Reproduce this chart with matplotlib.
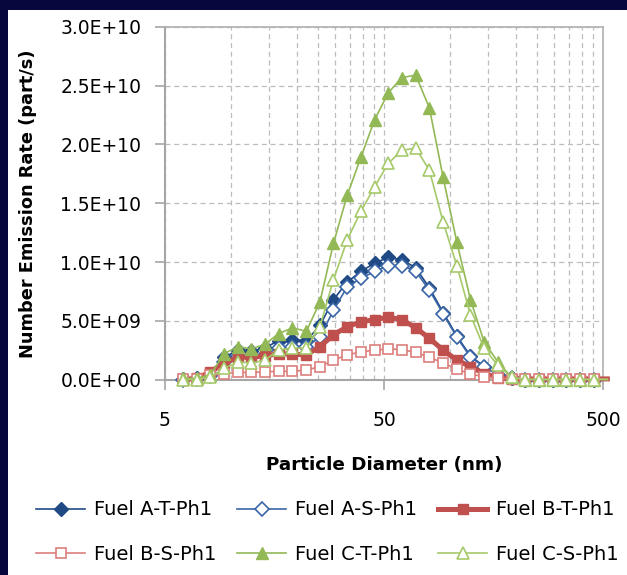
import matplotlib.pyplot as plt
import matplotlib.ticker as mticker
from matplotlib.patches import Rectangle
import numpy as np

# particle diameters (nm), EEPS-like bins
diam = [6.04, 6.98, 8.06, 9.31, 10.8, 12.4, 14.3, 16.5, 19.1, 22.1, 25.5, 29.4,
        34.0, 39.2, 45.3, 52.3, 60.4, 69.8, 80.6, 93.1, 107.5, 124.1, 143.3, 165.5,
        191.1, 220.7, 254.8, 294.3, 339.8, 392.4, 453.2, 523.3]

# emission rates in units of 1e9 part/s
fuel_a_t = [0.05, 0.1, 0.5, 1.9, 2.5, 2.4, 2.7, 3.3, 3.4, 3.3, 4.6, 6.8,
            8.3, 9.2, 9.9, 10.4, 10.2, 9.5, 7.8, 5.7, 3.7, 2.0, 1.1, 0.4,
            0.1, 0, 0, 0, 0, 0, 0, 0]
fuel_a_s = [0.0, 0.05, 0.3, 1.5, 2.0, 1.9, 2.1, 2.7, 2.8, 2.8, 3.6, 5.9,
            7.9, 8.6, 9.2, 9.7, 9.7, 9.2, 7.6, 5.6, 3.6, 1.9, 1.1, 0.4,
            0.1, 0, 0, 0, 0, 0, 0, 0]
fuel_b_t = [0.0, 0.1, 0.65, 1.4, 1.9, 1.9, 2.0, 2.2, 2.15, 2.1, 2.8, 3.8,
            4.5, 4.9, 5.1, 5.3, 5.1, 4.4, 3.5, 2.5, 1.65, 1.1, 0.5, 0.15,
            0.05, 0.05, 0.05, 0.05, 0.05, 0.05, 0.05, 0.05]
fuel_b_s = [0.05, 0.05, 0.35, 0.5, 0.6, 0.6, 0.65, 0.7, 0.7, 0.8, 1.1, 1.65,
            2.1, 2.35, 2.5, 2.6, 2.55, 2.3, 1.9, 1.4, 0.9, 0.45, 0.25, 0.1,
            0.05, 0.05, 0.05, 0.05, 0.05, 0.05, 0.05, 0.05]
fuel_c_t = [0.1, 0.1, 0.4, 2.2, 2.8, 2.6, 3.0, 3.9, 4.4, 4.1, 6.6, 11.6,
            15.7, 18.9, 22.1, 24.4, 25.7, 25.9, 23.1, 17.2, 11.7, 6.8, 3.2, 1.5,
            0.2, 0, 0, 0, 0, 0, 0, 0]
fuel_c_s = [0, 0, 0.2, 0.95, 1.5, 1.4, 1.65, 2.5, 2.7, 2.65, 4.5, 8.5,
            11.9, 14.3, 16.4, 18.4, 19.5, 19.7, 17.8, 13.4, 9.7, 5.5, 2.65, 1.2,
            0.2, 0, 0, 0, 0, 0, 0, 0]

labels = ['Fuel A-T-Ph1', 'Fuel A-S-Ph1', 'Fuel B-T-Ph1',
          'Fuel B-S-Ph1', 'Fuel C-T-Ph1', 'Fuel C-S-Ph1']
x_ticks = [5, 50, 500]

fig = plt.figure(figsize=(6.27, 5.75), dpi=100)
fig.patch.set_facecolor('#07073d')
# white slide area inside the dark border
fig.patches.append(Rectangle((8 / 627, 0), 1, 1 - 10 / 575, transform=fig.transFigure,
                             facecolor='white', edgecolor='none', zorder=-10))

ax = fig.add_axes([165 / 627, 1 - 379.5 / 575, 438 / 627, 352.5 / 575])
ax.set_facecolor('white')

d = np.array(diam)
shown = slice(0, int(np.sum(d <= 500)))

styles = [
    dict(color='#1f4a84', lw=1.2, marker='D', ms=7, mfc='#1f4a84', mec='#1f4a84'),
    dict(color='#3a66a8', lw=1.2, marker='D', ms=7, mfc='white', mec='#3a66a8', mew=1.2),
    dict(color='#c0504d', lw=3.6, marker='s', ms=6.5, mfc='#c0504d', mec='#c0504d'),
    dict(color='#dc7f7c', lw=1.2, marker='s', ms=7, mfc='white', mec='#dc7f7c', mew=1.2),
    dict(color='#93b957', lw=1.2, marker='^', ms=9, mfc='#93b957', mec='#93b957'),
    dict(color='#a6c96a', lw=1.2, marker='^', ms=9, mfc='white', mec='#a6c96a', mew=1.2),
]
series = [fuel_a_t, fuel_a_s, fuel_b_t, fuel_b_s, fuel_c_t, fuel_c_s]

handles = []
for vals, lab, st in zip(series, labels, styles):
    h, = ax.plot(d, np.array(vals) * 1e9, label=lab, markevery=shown,
                 clip_on=False, zorder=3, **st)
    handles.append(h)

ax.set_xscale('log')
ax.set_xlim(5, 500)
ax.set_ylim(0, 3e10)

ax.xaxis.set_major_locator(mticker.FixedLocator(x_ticks))
ax.xaxis.set_major_formatter(mticker.FixedFormatter([str(t) for t in x_ticks]))
minor = [5 * k for k in range(2, 10)] + [50 * k for k in range(2, 10)]
ax.xaxis.set_minor_locator(mticker.FixedLocator(minor))
ax.xaxis.set_minor_formatter(mticker.NullFormatter())
ax.yaxis.set_major_locator(mticker.MultipleLocator(5e9))
ax.yaxis.set_major_formatter(mticker.FuncFormatter(lambda v, p: f'{v:.1E}'))

ax.grid(True, which='both', axis='x', color='#bdbdbd', lw=0.9, ls=(0, (4, 3)))
ax.grid(True, which='major', axis='y', color='#bdbdbd', lw=0.9, ls=(0, (4, 3)))
ax.set_axisbelow(True)

for s in ['left', 'bottom']:
    ax.spines[s].set_color('#a6a6a6')
    ax.spines[s].set_linewidth(1.5)
for s in ['top', 'right']:
    ax.spines[s].set_color('#b0b0b0')
    ax.spines[s].set_linewidth(1.2)

ax.tick_params(axis='both', which='major', length=7, width=1.2, color='#a6a6a6',
               labelsize=13.5, labelcolor='black')
ax.tick_params(axis='y', pad=10)
ax.tick_params(axis='x', pad=16)
ax.tick_params(axis='x', which='minor', length=0)

ax.set_ylabel('Number Emission Rate (part/s)', fontsize=12.8, fontweight='bold')
ax.yaxis.set_label_coords(-128 / 438, 0.5)
ax.set_xlabel('Particle Diameter (nm)', fontsize=13.2, fontweight='bold')
ax.xaxis.set_label_coords(0.5, -77 / 352.5)

# legend fills column-wise, so reorder to read row-wise like the original
order = [0, 3, 1, 4, 2, 5]
fig.legend(handles=[handles[i] for i in order], loc='center',
           bbox_to_anchor=(0.522, 1 - 532 / 575), ncol=3, frameon=False,
           fontsize=14, handlelength=2.5, handletextpad=0.45,
           columnspacing=1.1, labelspacing=1.3, numpoints=1)

fig.savefig('out.png', dpi=100, facecolor=fig.get_facecolor())
